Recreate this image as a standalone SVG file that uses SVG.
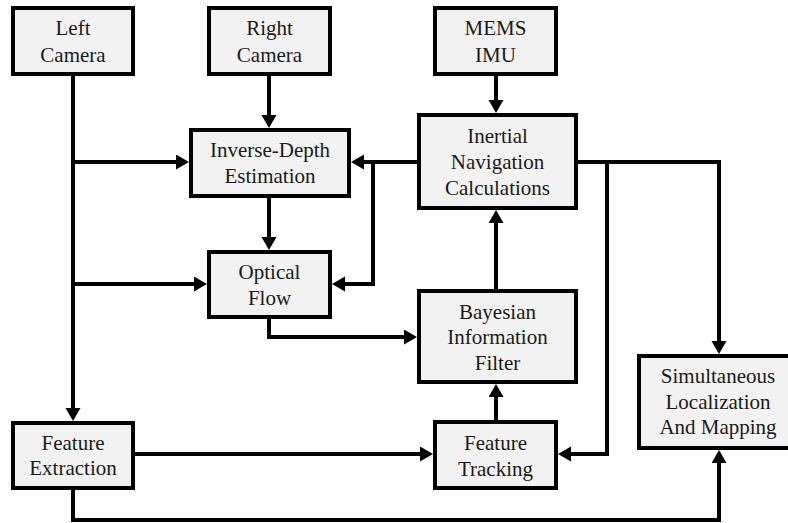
<svg xmlns="http://www.w3.org/2000/svg" width="788" height="523" viewBox="0 0 788 523" font-family="Liberation Serif, Tinos, Times New Roman, DejaVu Serif, serif" font-size="21">
  <style>
    .box { fill: #f2f2f2; stroke: #000; stroke-width: 4; }
    .lbl { fill: #1a1a1a; text-anchor: middle; }
    .wire { fill: none; stroke: #000; stroke-width: 4; stroke-linejoin: miter; stroke-linecap: butt; }
  </style>
  <defs>
    <marker id="arrow" markerUnits="userSpaceOnUse" markerWidth="14" markerHeight="16" refX="5" refY="7.5" orient="auto">
      <path d="M0,0 L13,7.5 L0,15 z" fill="#000"/>
    </marker>
  </defs>
  <rect width="788" height="523" fill="#fff"/>

  <g id="connectors">
    <path class="wire" marker-end="url(#arrow)" d="M73,76 V413"/>
    <path class="wire" marker-end="url(#arrow)" d="M73,162 H181"/>
    <path class="wire" marker-end="url(#arrow)" d="M73,284 H199"/>
    <path class="wire" marker-end="url(#arrow)" d="M269,76 V120"/>
    <path class="wire" marker-end="url(#arrow)" d="M269,198 V242"/>
    <path class="wire" marker-end="url(#arrow)" d="M496,76 V105"/>
    <path class="wire" marker-end="url(#arrow)" d="M417,162 H359"/>
    <path class="wire" marker-end="url(#arrow)" d="M373,162 V284 H340"/>
    <path class="wire" marker-end="url(#arrow)" d="M269,319 V337 H409"/>
    <path class="wire" marker-end="url(#arrow)" d="M496,289 V218"/>
    <path class="wire" marker-end="url(#arrow)" d="M496,420 V392"/>
    <path class="wire" marker-end="url(#arrow)" d="M578,162 H719 V346"/>
    <path class="wire" marker-end="url(#arrow)" d="M607,162 V454 H566"/>
    <path class="wire" marker-end="url(#arrow)" d="M135,454 H425"/>
    <path class="wire" marker-end="url(#arrow)" d="M73,490 V520 H719 V458"/>
  </g>

  <g id="left-camera">
    <rect class="box" x="13" y="8" width="120" height="66"/>
    <text class="lbl" x="73" y="35">Left</text>
    <text class="lbl" x="73" y="61.5">Camera</text>
  </g>
  <g id="right-camera">
    <rect class="box" x="209" y="8" width="121" height="66"/>
    <text class="lbl" x="269.5" y="35">Right</text>
    <text class="lbl" x="269.5" y="61.5">Camera</text>
  </g>
  <g id="mems-imu">
    <rect class="box" x="435" y="8" width="121" height="66"/>
    <text class="lbl" x="495.5" y="35">MEMS</text>
    <text class="lbl" x="495.5" y="61.5">IMU</text>
  </g>
  <g id="inverse-depth">
    <rect class="box" x="191" y="130" width="158" height="66"/>
    <text class="lbl" x="270" y="157">Inverse-Depth</text>
    <text class="lbl" x="270" y="183">Estimation</text>
  </g>
  <g id="inertial-navigation">
    <rect class="box" x="419" y="115" width="157" height="93"/>
    <text class="lbl" x="497.5" y="143">Inertial</text>
    <text class="lbl" x="497.5" y="169">Navigation</text>
    <text class="lbl" x="497.5" y="195">Calculations</text>
  </g>
  <g id="optical-flow">
    <rect class="box" x="209" y="252" width="121" height="65"/>
    <text class="lbl" x="269.5" y="278.5">Optical</text>
    <text class="lbl" x="269.5" y="305">Flow</text>
  </g>
  <g id="bayesian-filter">
    <rect class="box" x="419" y="291" width="157" height="91"/>
    <text class="lbl" x="497.5" y="318.5">Bayesian</text>
    <text class="lbl" x="497.5" y="344">Information</text>
    <text class="lbl" x="497.5" y="370">Filter</text>
  </g>
  <g id="feature-tracking">
    <rect class="box" x="435" y="422" width="121" height="66"/>
    <text class="lbl" x="495.5" y="450">Feature</text>
    <text class="lbl" x="495.5" y="476">Tracking</text>
  </g>
  <g id="feature-extraction">
    <rect class="box" x="13" y="423" width="120" height="65"/>
    <text class="lbl" x="73" y="449.5">Feature</text>
    <text class="lbl" x="73" y="475">Extraction</text>
  </g>
  <g id="slam">
    <rect class="box" x="639" y="356" width="158" height="92"/>
    <text class="lbl" x="718" y="383">Simultaneous</text>
    <text class="lbl" x="718" y="408.5">Localization</text>
    <text class="lbl" x="718" y="434">And Mapping</text>
  </g>
</svg>
